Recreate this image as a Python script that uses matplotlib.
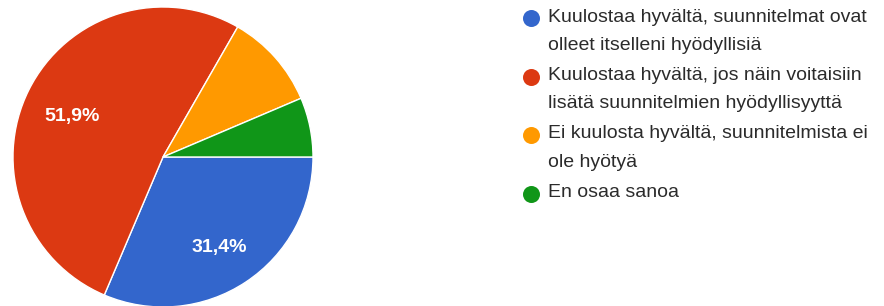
import matplotlib
matplotlib.use("Agg")
import matplotlib.pyplot as plt

plt.rcParams['font.family'] = ['Liberation Sans', 'DejaVu Sans']

# Vastausten osuudet (%)
labels = [
    "Kuulostaa hyvältä, suunnitelmat ovat\nolleet itselleni hyödyllisiä",
    "Kuulostaa hyvältä, jos näin voitaisiin\nlisätä suunnitelmien hyödyllisyyttä",
    "Ei kuulosta hyvältä, suunnitelmista ei\nole hyötyä",
    "En osaa sanoa",
]
shares = [31.4, 51.9, 10.3, 6.4]
colors = ["#3366cc", "#dc3912", "#ff9900", "#109618"]

W, H = 884, 306
fig = plt.figure(figsize=(W / 100, H / 100), dpi=100)
fig.patch.set_facecolor("white")

# pie centre (163, 157) px, radius 150 px
cx, cy, r = 163, 157, 150
ax = fig.add_axes([(cx - r) / W, (H - cy - r) / H, 2 * r / W, 2 * r / H])


def pct(v):
    return f"{v:.1f}%".replace(".", ",") if v > 20 else ""


wedges, texts, autotexts = ax.pie(
    shares, colors=colors, startangle=0, counterclock=False, radius=1,
    autopct=pct, pctdistance=0.68,
    wedgeprops=dict(edgecolor="white", linewidth=1),
    textprops=dict(color="white", fontsize=14, fontweight="bold"),
)
# nudge the value labels down a little
for t in autotexts:
    x0, y0 = t.get_position()
    t.set_position((x0, y0 - 0.035))
ax.set_xlim(-1, 1)
ax.set_ylim(-1, 1)
ax.set_aspect("equal")
ax.axis("off")

# legend drawn in pixel coordinates
lax = fig.add_axes([0, 0, 1, 1])
lax.set_xlim(0, W)
lax.set_ylim(H, 0)
lax.axis("off")
lax.patch.set_alpha(0)

y = 17
for lab, col in zip(labels, colors):
    lax.scatter([531], [y + 1], s=150, color=col, zorder=3, linewidths=0)
    lines = lab.split("\n")
    for i, line in enumerate(lines):
        lax.text(548, y + i * 28.5, line, fontsize=14, color="#2b2b2b", va="center", ha="left")
    y += 28.5 * (len(lines) - 1) + 30

fig.savefig("out.png", dpi=100)
